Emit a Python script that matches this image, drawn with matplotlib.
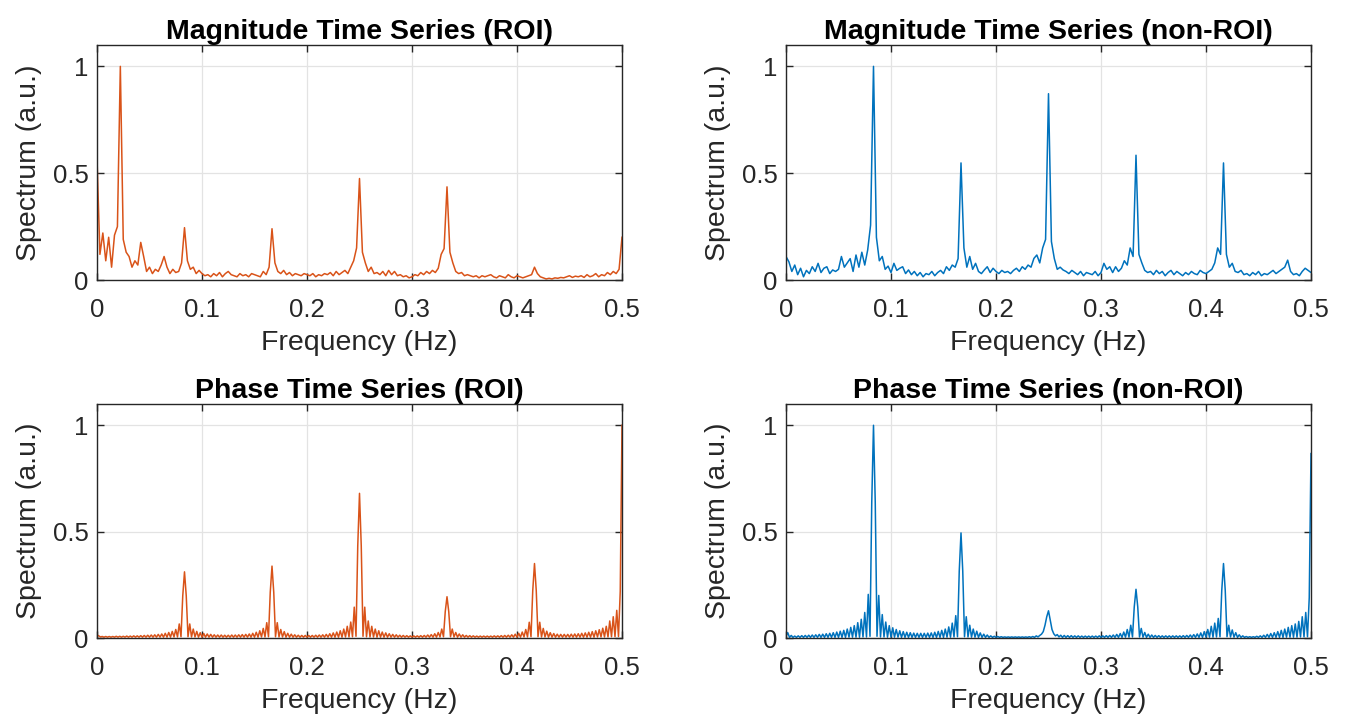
import numpy as np
import matplotlib
matplotlib.use("Agg")
import matplotlib.pyplot as plt

plt.rcParams['font.family'] = ['Liberation Sans', 'DejaVu Sans']

# spectra, in units of 0.001 a.u.
# magnitude spectra: bins of 1/360 Hz from 0 to 0.5 Hz
mag_roi = """
570 120 220 90 200 60 210 250 1000 190
130 110 60 90 70 176 110 40 60 30
50 40 70 110 60 30 50 35 40 80
245 90 50 60 30 45 30 20 25 15
30 20 35 15 30 40 25 20 15 30
20 25 15 30 25 20 15 40 25 60
240 80 40 30 45 25 35 20 30 25
20 30 25 20 30 15 25 20 30 25
35 20 40 25 35 45 30 60 90 150
475 130 80 40 60 30 35 25 40 20
45 25 40 20 25 15 20 10 15 25
20 35 25 40 30 45 35 55 120 147
436 130 80 40 30 35 20 25 20 15
20 10 20 15 20 25 15 10 20 15
10 25 15 10 20 15 10 15 20 25
60 30 15 10 5 8 5 10 8 12
10 15 20 12 18 15 20 12 25 15
20 30 15 25 20 35 25 40 30 50
200
"""

mag_nonroi = """
110 85 40 70 25 55 15 45 30 62
40 78 35 55 62 30 47 40 50 110
60 80 100 40 117 60 130 70 140 257
1000 200 90 110 50 65 35 78 45 55
62 30 47 25 40 20 35 15 30 25
40 20 35 45 30 62 45 70 60 100
548 150 60 110 50 78 40 30 47 62
35 55 40 30 45 35 40 30 45 55
40 62 50 70 60 101 117 80 150 190
872 180 100 50 60 47 40 30 45 35
25 40 20 35 30 25 40 20 35 78
50 62 35 62 40 55 90 70 150 110
584 120 80 45 35 40 25 45 30 40
20 35 45 25 40 30 20 35 25 40
30 25 45 35 30 40 50 80 150 120
548 120 60 78 40 35 45 25 30 20
35 25 40 20 30 25 35 45 30 40
50 60 93 40 25 30 20 40 55 45
35
"""

# phase spectra: bins of 1/600 Hz from 0 to 0.5 Hz
phase_roi = """
14 10 5 7 4 7 4 7 4 7
4 8 4 8 4 8 4 9 4 9
4 10 4 10 4 11 4 12 4 13
4 14 4 15 4 17 4 19 4 22
4 26 4 31 5 40 5 66 6 198
311 198 6 66 5 42 5 31 4 25
4 21 4 19 4 17 4 15 4 14
4 14 4 13 4 13 4 14 4 14
4 15 4 16 4 17 4 19 4 22
4 27 4 34 5 45 5 72 6 215
338 215 6 72 5 40 5 30 4 22
4 18 4 15 4 13 4 12 4 12
4 12 4 12 4 13 4 14 4 15
4 17 4 20 4 24 4 28 4 34
4 42 5 55 5 75 6 145 8 433
680 433 8 145 6 80 5 55 5 42
4 34 4 28 4 24 4 20 4 17
4 15 4 13 4 12 4 11 4 10
4 10 4 10 4 11 4 12 4 14
4 16 4 20 4 26 5 42 6 124
194 124 6 42 5 26 4 19 4 15
4 12 4 11 4 10 4 9 4 9
4 9 4 9 4 9 4 10 4 10
4 11 4 12 4 13 4 15 4 18
4 22 4 28 5 40 5 74 6 223
350 223 6 74 5 45 5 32 4 25
4 21 4 18 4 17 4 17 4 17
4 18 4 19 4 20 4 22 4 24
4 27 4 30 4 34 5 39 5 46
5 55 5 80 6 100 6 130 7 220
1000
"""

phase_nonroi = """
10 25 3 12 3 9 3 10 3 11
3 12 3 13 3 14 3 15 3 17
3 18 3 20 3 22 3 25 3 28
3 32 3 36 3 42 4 50 4 58
4 72 4 88 5 120 5 205 8 637
1000 637 8 200 5 110 5 75 4 58
4 48 4 40 4 34 3 30 3 27
3 25 3 23 3 22 3 22 3 22
3 23 3 24 3 27 3 31 3 36
3 42 4 52 4 70 5 105 6 315
494 315 6 100 5 60 4 42 4 32
3 24 3 18 3 14 3 10 3 8
3 7 3 6 3 5 3 5 3 5
3 5 3 5 3 5 3 5 3 6
3 7 3 10 5 12 18 30 60 100
128 85 40 20 10 16 5 13 3 12
3 11 3 11 3 10 3 10 3 9
3 9 3 9 3 9 3 9 3 10
3 10 3 11 3 12 3 14 3 17
3 21 3 28 4 40 4 60 5 146
229 146 5 45 4 26 3 18 3 14
3 12 3 11 3 10 3 10 3 10
3 10 3 10 3 10 3 11 3 12
3 14 3 16 3 19 3 24 3 30
4 40 4 55 4 70 5 92 6 223
350 223 6 60 5 38 4 25 3 15
3 10 3 7 3 6 3 6 3 8
3 10 3 13 3 17 3 21 3 25
3 30 3 36 3 42 4 50 4 58
4 66 4 78 5 100 5 120 6 190
867
"""

titles = ['Magnitude Time Series (ROI)', 'Magnitude Time Series (non-ROI)',
          'Phase Time Series (ROI)', 'Phase Time Series (non-ROI)']
xtick_vals = [0, 0.1, 0.2, 0.3, 0.4, 0.5]
xtick_labels = ['0', '0.1', '0.2', '0.3', '0.4', '0.5']
ytick_vals = [0, 0.5, 1]
ytick_labels = ['0', '0.5', '1']

ORANGE = '#D95319'
BLUE = '#0072BD'
DARK = '#262626'


def parse(block):
    vals = np.array(block.split(), dtype=float) / 1000.0
    freq = np.arange(len(vals)) * 0.5 / (len(vals) - 1)
    return freq, vals


series = [parse(mag_roi), parse(mag_nonroi), parse(phase_roi), parse(phase_nonroi)]
colors = [ORANGE, BLUE, ORANGE, BLUE]

W, H = 1345, 721
fig = plt.figure(figsize=(W / 100, H / 100), dpi=100)

# axes boxes in pixels: left, top, right, bottom
boxes = [(97, 45, 622, 280), (786, 45, 1311, 280),
         (97, 404, 622, 638), (786, 404, 1311, 638)]

for (l, t, r, b), (f, s), c, title in zip(boxes, series, colors, titles):
    ax = fig.add_axes([l / W, 1 - b / H, (r - l) / W, (b - t) / H])
    ax.plot(f, s, color=c, lw=1.1)
    ax.set_xlim(0, 0.5)
    ax.set_ylim(0, 1.1)
    ax.set_xticks(xtick_vals)
    ax.set_xticklabels(xtick_labels)
    ax.set_yticks(ytick_vals)
    ax.set_yticklabels(ytick_labels)
    ax.grid(True, color='#e3e3e3', lw=0.9)
    ax.set_axisbelow(True)
    for sp in ax.spines.values():
        sp.set_color(DARK)
        sp.set_linewidth(1.0)
    ax.tick_params(direction='in', top=True, right=True, length=5, width=1.0,
                   labelsize=18.5, colors=DARK)
    ax.tick_params(axis='x', pad=13)
    ax.tick_params(axis='y', pad=6)
    ax.set_title(title, fontsize=20.5, fontweight='bold', pad=4)
    ax.set_xlabel('Frequency (Hz)', fontsize=20.5, color=DARK, labelpad=6)
    ax.set_ylabel('Spectrum (a.u.)', fontsize=20.5, color=DARK, labelpad=8)

fig.savefig('out.png', dpi=100, facecolor='white')
